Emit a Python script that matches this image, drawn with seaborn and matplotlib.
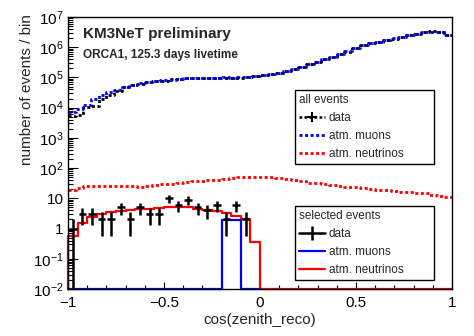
import numpy as np
import pandas as pd
import matplotlib
matplotlib.use("Agg")
import matplotlib.pyplot as plt
import seaborn as sns
from matplotlib.lines import Line2D
from matplotlib.ticker import FuncFormatter, LogLocator, MultipleLocator, NullFormatter

# ---------------- data ----------------
# all events: 50 bins of width 0.04 in cos(zenith_reco)
all_edges = np.linspace(-1, 1, 51)
all_muons = [7200, 8900, 12600, 20000, 26900, 33100, 39800, 50100, 56200, 63100,
             70800, 75900, 79400, 85100, 89100, 93300, 95500, 97700, 97700, 97700,
             100000, 97700, 100000, 104700, 112200, 120200, 131800, 141300, 158500, 186200,
             223900, 275400, 331100, 398100, 467700, 575400, 724400, 933300, 1148000, 1349000,
             1514000, 1698000, 1950000, 2188000, 2512000, 2818000, 3090000, 3311000, 3162000, 2512000]
all_data = [5250, 5600, 10500, 11200, 20000, 26300, 35500, 47900, 55000, 62500,
            70000, 76500, 78800, 85800, 88500, 94000, 95000, 98200, 97200, 98300,
            99400, 98200, 99500, 105200, 111600, 120900, 131100, 142000, 157700, 187100,
            222800, 276700, 329500, 400100, 465400, 578200, 720800, 938000, 1142000, 1355000,
            1507000, 1706000, 1940000, 2199000, 2500000, 2832000, 3075000, 3327000, 3146000, 2525000]
all_neutrinos = [19.1, 21.4, 25.1, 26.3, 26.3, 26.3, 26.3, 26.3, 25.1, 24.5,
                 25.7, 27.5, 29.5, 30.9, 31.6, 33.9, 36.3, 38.0, 39.8, 41.7,
                 44.7, 46.8, 49.0, 51.3, 52.5, 51.3, 49.0, 46.8, 43.7, 40.7,
                 36.3, 33.1, 31.6, 29.5, 27.5, 25.7, 24.5, 23.4, 21.9, 20.4,
                 19.1, 18.6, 17.8, 16.6, 15.8, 15.1, 14.5, 13.2, 12.0, 11.2]

# selected events: bins of width 0.05
sel_edges = np.linspace(-1, 1, 41)
sel_data = [1, 3, 3, 2, 2, 5, 2, 5, 3, 3, 10, 6, 9, 5, 4, 6, 2, 6, 2, 0]
sel_neutrinos = [0.55, 1.5, 2.5, 3.0, 3.4, 3.7, 4.1, 4.4, 4.5, 4.9,
                 5.3, 5.3, 5.3, 4.6, 4.1, 3.9, 3.2, 2.6, 2.0, 0.36] + [0] * 20
sel_muons = [0] * 16 + [1.9, 1.9] + [0, 0]

YMIN, YMAX = 1e-2, 1e7

# ---------------- style ----------------
sns.set_style("ticks")
plt.rcParams["font.family"] = ["Liberation Sans", "DejaVu Sans"]
plt.rcParams["mathtext.fontset"] = "custom"
plt.rcParams["mathtext.rm"] = "Liberation Sans"
plt.rcParams["mathtext.it"] = "Liberation Sans:italic"
plt.rcParams["axes.unicode_minus"] = True

fig = plt.figure(figsize=(4.74, 3.36), dpi=100)
ax = fig.add_axes([68 / 474, 1 - 289 / 336, 384 / 474, 272 / 336])
ax.set_yscale("log")
ax.set_xlim(-1, 1)
ax.set_ylim(YMIN, YMAX)


def step(edges, vals, from_bottom=True, **kw):
    v = np.clip(np.asarray(vals, float), YMIN, None)
    if from_bottom:
        x = np.concatenate([[edges[0]], edges])
        y = np.concatenate([[YMIN], v, [v[-1]]])
    else:
        x = np.asarray(edges, float)
        y = np.concatenate([v, [v[-1]]])
    df = pd.DataFrame({"x": x, "y": y})
    sns.lineplot(data=df, x="x", y="y", drawstyle="steps-post", estimator=None,
                 sort=False, ax=ax, clip_on=False, **kw)


dot = (0, (1.1, 0.9))
step(all_edges, all_neutrinos, from_bottom=False, color="#ff0000", lw=2.0, linestyle=dot)
step(all_edges, all_data, from_bottom=False, color="black", lw=2.0, linestyle=dot)
step(all_edges, all_muons, from_bottom=False, color="#0000ff", lw=2.0, linestyle=dot)

step(sel_edges, sel_neutrinos, color="#ff0000", lw=1.6)
step(sel_edges[:21], sel_muons, color="#0000ff", lw=1.6)

centers = 0.5 * (sel_edges[:20] + sel_edges[1:21])
n = np.asarray(sel_data, float)
mask = n > 0
err = np.sqrt(n[mask])
lower = np.minimum(err, n[mask] - 1e-4)
ax.errorbar(centers[mask], n[mask], yerr=[lower, err], xerr=0.02, fmt="none",
            ecolor="black", elinewidth=1.8, capsize=0, zorder=5)

ax.set_xlabel("")
ax.set_ylabel("")

# ---------------- axes cosmetics ----------------
for s in ax.spines.values():
    s.set_linewidth(1.0)
    s.set_color("black")
ax.xaxis.set_major_locator(MultipleLocator(0.5))
ax.xaxis.set_minor_locator(MultipleLocator(0.1))
ax.xaxis.set_major_formatter(FuncFormatter(lambda v, p: ("%g" % v).replace("-", "\u2212")))
ax.yaxis.set_major_locator(LogLocator(base=10, numticks=20))
ax.yaxis.set_minor_locator(LogLocator(base=10, subs=np.arange(2, 10), numticks=200))
ax.yaxis.set_minor_formatter(NullFormatter())


def yfmt(v, p):
    e = int(round(np.log10(v)))
    if e == 0:
        return "1"
    if e == 1:
        return "10"
    return r"$10^{%d}$" % e


ax.yaxis.set_major_formatter(FuncFormatter(yfmt))
ax.tick_params(axis="both", which="both", direction="in", top=False, right=False,
               labelsize=11, colors="black", width=0.8)
ax.tick_params(axis="y", which="major", length=7, pad=3)
ax.tick_params(axis="y", which="minor", length=3.5)
ax.tick_params(axis="x", which="major", length=5, pad=5)
ax.tick_params(axis="x", which="minor", length=2.8)

ax.set_xlabel("cos(zenith_reco)", fontsize=11, labelpad=2.5)
ax.set_ylabel("number of events / bin", fontsize=11, loc="top")
ax.yaxis.set_label_coords(-0.088, 1.012)

ax.text(0.039, 0.923, "KM3NeT preliminary", transform=ax.transAxes, fontsize=11,
        fontweight="bold", va="baseline", ha="left")
ax.text(0.039, 0.849, "ORCA1, 125.3 days livetime", transform=ax.transAxes, fontsize=8.5,
        fontweight="bold", va="baseline", ha="left")

# ---------------- legends ----------------
leg_kw = dict(loc="upper left", fontsize=8.5, title_fontsize=8.5, alignment="left",
              frameon=True, fancybox=False, framealpha=1, edgecolor="black",
              borderpad=0.35, labelspacing=0.5, handlelength=2.2, handletextpad=0.3,
              borderaxespad=0, mode="expand")

h_all = [Line2D([0], [0], color="black", lw=1.8, linestyle=dot, marker="+",
                markersize=7, markeredgewidth=1.5),
         Line2D([0], [0], color="#0000ff", lw=2.0, linestyle=dot),
         Line2D([0], [0], color="#ff0000", lw=2.0, linestyle=dot)]
lab = ["data", "atm. muons", "atm. neutrinos"]
leg1 = ax.legend(h_all, lab, title="all events",
                 bbox_to_anchor=(0.591, 0.4596, 0.362, 0.272), **leg_kw)
leg1.get_frame().set_linewidth(1.0)
ax.add_artist(leg1)

h_sel = [Line2D([0], [0], color="black", lw=1.8, marker="|", markersize=10,
                markeredgewidth=1.8),
         Line2D([0], [0], color="#0000ff", lw=1.6),
         Line2D([0], [0], color="#ff0000", lw=1.6)]
leg2 = ax.legend(h_sel, lab, title="selected events",
                 bbox_to_anchor=(0.591, 0.033, 0.362, 0.272), **leg_kw)
leg2.get_frame().set_linewidth(1.0)

fig.savefig("out.png", dpi=100)
